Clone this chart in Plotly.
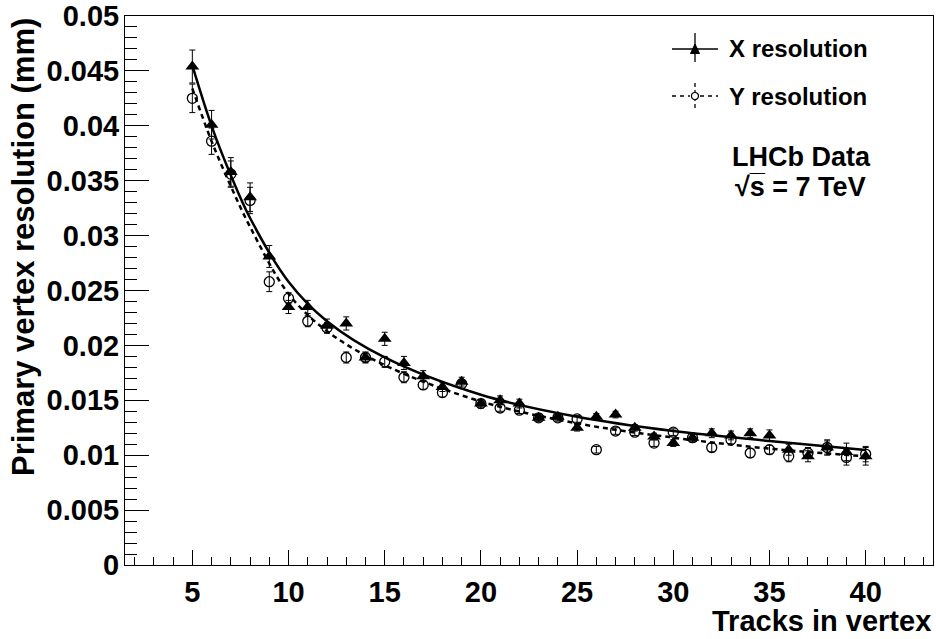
import plotly.graph_objects as go

# ---------------- data ----------------
tracks = list(range(5, 41))
x_res = [0.0454, 0.0401, 0.0358, 0.0335, 0.0281, 0.0235, 0.0235, 0.0218, 0.0220, 0.0189,
         0.0206, 0.0184, 0.0172, 0.0162, 0.0167, 0.0147, 0.0150, 0.0147, 0.0134, 0.0135,
         0.0125, 0.0135, 0.0137, 0.0125, 0.0117, 0.0111, 0.0116, 0.0120, 0.0118, 0.0120,
         0.0118, 0.0105, 0.0099, 0.0107, 0.0103, 0.0099]
x_err = [0.0015, 0.0013, 0.0013, 0.0013, 0.0010, 0.0006, 0.0006, 0.0006, 0.0006, 0.0005,
         0.0006, 0.0006, 0.0005, 0.0004, 0.0004, 0.0004, 0.0004, 0.0004, 0.0003, 0.0003,
         0.0003, 0.0003, 0.0003, 0.0003, 0.0003, 0.0003, 0.0004, 0.0004, 0.0004, 0.0004,
         0.0005, 0.0005, 0.0005, 0.0007, 0.0008, 0.0008]
y_res = [0.0425, 0.0386, 0.0356, 0.0332, 0.0258, 0.0243, 0.0222, 0.0216, 0.0189, 0.0189,
         0.0185, 0.0171, 0.0164, 0.0157, 0.0165, 0.0147, 0.0143, 0.0141, 0.0134, 0.0134,
         0.0133, 0.0105, 0.0122, 0.0121, 0.0111, 0.0121, 0.0116, 0.0107, 0.0114, 0.0102,
         0.0105, 0.0099, 0.0102, 0.0107, 0.0098, 0.0101]
y_err = [0.0013, 0.0012, 0.0012, 0.0012, 0.0009, 0.0005, 0.0005, 0.0005, 0.0005, 0.0004,
         0.0005, 0.0005, 0.0004, 0.0004, 0.0004, 0.0003, 0.0003, 0.0003, 0.0003, 0.0003,
         0.0003, 0.0003, 0.0003, 0.0003, 0.0003, 0.0003, 0.0003, 0.0004, 0.0004, 0.0004,
         0.0004, 0.0005, 0.0005, 0.0006, 0.0007, 0.0007]

# fit curves
fit_tracks = [5, 6, 7, 8, 10, 12, 15, 20, 25, 30, 35, 40]
fit_x = [0.0455, 0.0400, 0.0355, 0.0316, 0.0258, 0.0222, 0.0189, 0.0155, 0.0135, 0.0122, 0.0113, 0.01047]
fit_y = [0.0434, 0.0386, 0.0345, 0.0308, 0.0247, 0.0213, 0.0182, 0.0149, 0.0129, 0.0116, 0.0106, 0.0099]

x_tick_vals = [5, 10, 15, 20, 25, 30, 35, 40]
y_tick_vals = [0, 0.005, 0.01, 0.015, 0.02, 0.025, 0.03, 0.035, 0.04, 0.045, 0.05]
y_tick_text = ["0", "0.005", "0.01", "0.015", "0.02", "0.025", "0.03", "0.035", "0.04", "0.045", "0.05"]

legend_labels = ["X resolution", "Y resolution"]
x_title = "Tracks in vertex"
y_title = "Primary vertex resolution (mm)"

# ---------------- layout geometry ----------------
W, H = 936, 639
L, R, T, B = 125, 3, 16, 74
FONT = "Liberation Sans, Arial, Helvetica, sans-serif"

# reference-pixel -> paper helpers (plot area spans x 125..933, y 16..565)
def px(xp):
    return (xp - L) / (W - L - R)


def py(yp):
    return (H - B - yp) / (H - T - B)


fig = go.Figure()

fig.add_trace(go.Scatter(
    x=tracks, y=x_res, mode="markers", name=legend_labels[0], showlegend=False,
    marker=dict(symbol="triangle-up", size=12, color="black"),
    error_y=dict(type="data", array=x_err, color="black", thickness=1, width=3),
))
fig.add_trace(go.Scatter(
    x=tracks, y=y_res, mode="markers", name=legend_labels[1], showlegend=False,
    marker=dict(symbol="circle-open", size=10, color="black", line=dict(width=1.3, color="black")),
    error_y=dict(type="data", array=y_err, color="black", thickness=1, width=3),
))
fig.add_trace(go.Scatter(
    x=fit_tracks, y=fit_x, mode="lines", showlegend=False,
    line=dict(color="black", width=2.5, shape="spline", smoothing=1.0),
))
fig.add_trace(go.Scatter(
    x=fit_tracks, y=fit_y, mode="lines", showlegend=False,
    line=dict(color="black", width=2.5, dash="5px,4px", shape="spline", smoothing=1.0),
))

tickfont = dict(family=FONT, size=29, color="black", weight="bold")

fig.update_xaxes(
    range=[1.5, 43.5], tickvals=x_tick_vals, ticks="inside", ticklen=15, tickwidth=1,
    tickcolor="black", showline=True, linecolor="black", linewidth=1, mirror=True,
    showgrid=False, zeroline=False, tickfont=tickfont, ticklabelstandoff=1,
    minor=dict(dtick=1, tick0=0, ticks="inside", ticklen=8, tickcolor="black", tickwidth=1, showgrid=False),
)
fig.update_yaxes(
    range=[0, 0.05], tickvals=y_tick_vals, ticktext=y_tick_text, ticks="inside", ticklen=24,
    tickwidth=1, tickcolor="black", showline=True, linecolor="black", linewidth=1, mirror=True,
    showgrid=False, zeroline=False, tickfont=tickfont, ticklabelstandoff=-1,
    minor=dict(dtick=0.001, tick0=0, ticks="inside", ticklen=12, tickcolor="black", tickwidth=1, showgrid=False),
)

shapes = []
# legend: X resolution (solid line, triangle, error bar)
shapes.append(dict(type="line", xref="paper", yref="paper", x0=px(672), x1=px(718), y0=py(49), y1=py(49),
                   line=dict(color="black", width=1.3)))
shapes.append(dict(type="line", xref="paper", yref="paper", x0=px(695), x1=px(695), y0=py(33), y1=py(62),
                   line=dict(color="black", width=1.3)))
shapes.append(dict(type="path", xref="paper", yref="paper",
                   path=f"M {px(690.5)} {py(53.5)} L {px(699.5)} {py(53.5)} L {px(695)} {py(44)} Z",
                   fillcolor="black", line=dict(color="black", width=1)))
# legend: Y resolution (dashed line, small open circle, dashed error bar)
shapes.append(dict(type="line", xref="paper", yref="paper", x0=px(672), x1=px(690), y0=py(96), y1=py(96),
                   line=dict(color="black", width=1.3, dash="4px,4px")))
shapes.append(dict(type="line", xref="paper", yref="paper", x0=px(700), x1=px(718), y0=py(96), y1=py(96),
                   line=dict(color="black", width=1.3, dash="4px,4px")))
shapes.append(dict(type="line", xref="paper", yref="paper", x0=px(695), x1=px(695), y0=py(83), y1=py(109),
                   line=dict(color="black", width=1.3, dash="4px,3px")))
shapes.append(dict(type="circle", xref="paper", yref="paper", x0=px(691.5), x1=px(698.5), y0=py(99.5), y1=py(92.5),
                   fillcolor="white", line=dict(color="black", width=1.2)))

annotations = [
    dict(text=f"<b>{legend_labels[0]}</b>", xref="paper", yref="paper", x=px(727), y=py(49),
         xanchor="left", yanchor="middle", showarrow=False, font=dict(family=FONT, size=24, color="black")),
    dict(text=f"<b>{legend_labels[1]}</b>", xref="paper", yref="paper", x=px(727), y=py(96),
         xanchor="left", yanchor="middle", showarrow=False, font=dict(family=FONT, size=24, color="black")),
    dict(text="<b>LHCb Data</b>", xref="paper", yref="paper", x=px(801), y=py(157),
         xanchor="center", yanchor="middle", showarrow=False, font=dict(family=FONT, size=27, color="black")),
    dict(text="<b>√s\u0305 = 7 TeV</b>", xref="paper", yref="paper",
         x=px(800), y=py(187), xanchor="center", yanchor="middle", showarrow=False,
         font=dict(family=FONT, size=27, color="black")),
    dict(text=f"<b>{x_title}</b>", xref="paper", yref="paper", x=1.0, y=py(621),
         xanchor="right", yanchor="middle", showarrow=False, font=dict(family=FONT, size=29, color="black")),
    dict(text=f"<b>{y_title}</b>", xref="paper", yref="paper", x=px(23), y=1.0, textangle=-90,
         xanchor="center", yanchor="top", showarrow=False, font=dict(family=FONT, size=31, color="black")),
]

fig.update_layout(
    width=W, height=H, margin=dict(l=L, r=R, t=T, b=B, autoexpand=False),
    paper_bgcolor="white", plot_bgcolor="white", showlegend=False,
    shapes=shapes, annotations=annotations,
)

# remove the default 8px page margin so the figure fills the window exactly
fig.write_html("out.html", config={"displayModeBar": False},
               post_script="document.body.style.margin='0px';")
